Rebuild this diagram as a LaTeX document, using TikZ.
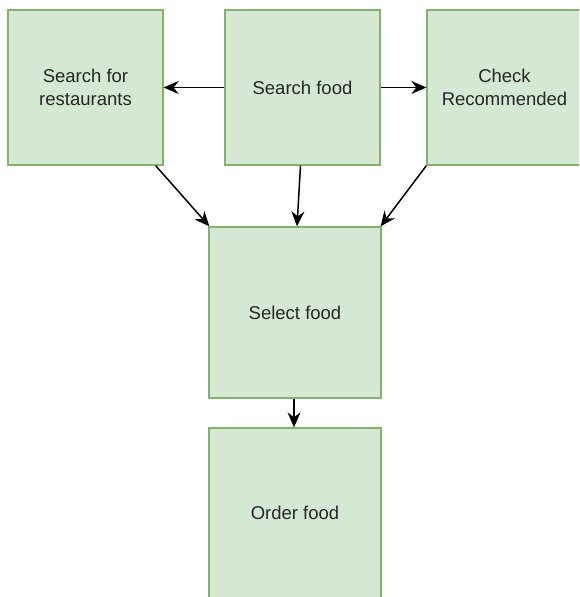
\documentclass[tikz,border=0pt]{standalone}
\usepackage{fontspec}
\setmainfont{Liberation Sans}
\usetikzlibrary{arrows.meta}
\definecolor{boxfill}{HTML}{D5E8D4}
\definecolor{boxline}{HTML}{82B366}
\definecolor{txt}{HTML}{262626}
\begin{document}
\begin{tikzpicture}[x=1pt,y=-1pt,
  box/.style={draw=boxline,fill=boxfill,line width=1.3pt,inner sep=0pt,
    align=center,text=txt,font=\fontsize{18.5}{23}\selectfont},
  flow/.style={draw=black,line width=1.5pt,-{Stealth[length=15pt,width=13pt,inset=5pt]}}]
  \useasboundingbox (0,0) rectangle (579,597);
  \clip (0,0) rectangle (579,597);
  \fill[white] (0,0) rectangle (579,597);
  % top row
  \node[box,minimum width=155pt,minimum height=155pt] (rest) at (85.5,87.5) {Search for\\restaurants};
  \node[box,minimum width=155pt,minimum height=155pt] (search) at (302.5,87.5) {Search food};
  \node[box,minimum width=155pt,minimum height=155pt] (recom) at (504.5,87.5) {Check\\Recommended};
  % middle and bottom
  \node[box,minimum width=172pt,minimum height=171pt] (select) at (295,312.5) {Select food};
  \node[box,minimum width=172pt,minimum height=170pt] (order) at (295,513) {Order food};
  % connectors
  \draw[flow] (search.west) -- (rest.east);
  \draw[flow] (search.east) -- (recom.west);
  \draw[flow] ([xshift=-8pt]rest.south east) -- ([xshift=1pt]select.north west);
  \draw[flow] ([xshift=-2pt]search.south) -- ([xshift=2pt]select.north);
  \draw[flow] (recom.south west) -- ([xshift=-1pt]select.north east);
  \draw[flow] ([xshift=-1pt]select.south) -- ([xshift=-1pt]order.north);
\end{tikzpicture}
\end{document}
